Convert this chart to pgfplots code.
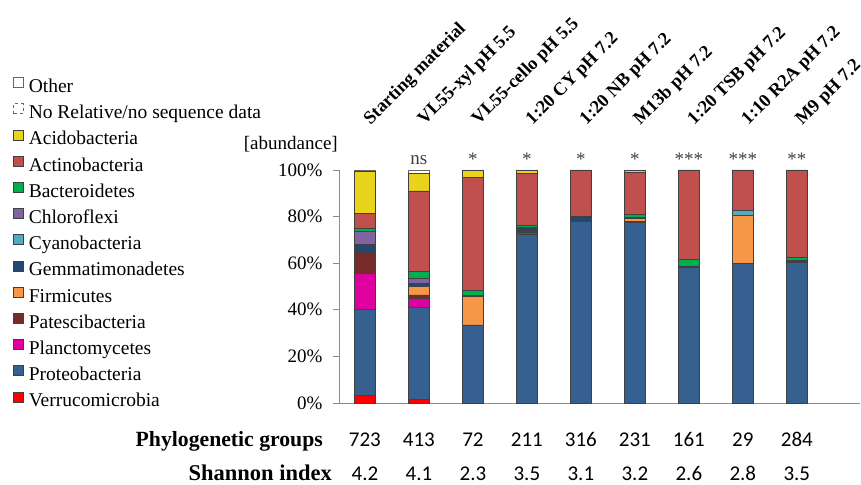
\documentclass[border=0pt]{standalone}
\usepackage{fontspec}
\setmainfont{Liberation Serif}
\newfontfamily\numfont{Carlito}
\usepackage{pgfplots}
\pgfplotsset{compat=1.18}
\definecolor{cVer}{HTML}{FF0000}
\definecolor{cPro}{HTML}{366090}
\definecolor{cPla}{HTML}{DF00A2}
\definecolor{cPat}{HTML}{772C2A}
\definecolor{cFir}{HTML}{F79646}
\definecolor{cGem}{HTML}{254670}
\definecolor{cCya}{HTML}{4BACC6}
\definecolor{cChl}{HTML}{8064A2}
\definecolor{cBac}{HTML}{00B050}
\definecolor{cAct}{HTML}{C0504D}
\definecolor{cAci}{HTML}{E9D41C}
\definecolor{axgray}{HTML}{8C8C8C}
\definecolor{sig}{HTML}{404040}
\tikzset{catlab/.style={rotate=45, anchor=base west, font=\bfseries\fontsize{18.4}{22}\selectfont},
  siglab/.style={anchor=base, text=sig, font=\fontsize{19}{22}\selectfont},
  numlab/.style={anchor=base, inner sep=0pt, font=\numfont\fontsize{21}{24}\selectfont}}
\begin{document}
\fontsize{19}{22}\selectfont
\begin{tikzpicture}
\path[use as bounding box] (0,0) rectangle (861pt,484pt);
\begin{axis}[
  at={(339pt,81pt)}, anchor=south west,
  scale only axis, width=521pt, height=233pt,
  xmin=-0.48, xmax=9.17, ymin=0, ymax=100,
  ybar stacked, bar width=21.5pt,
  axis x line*=bottom, axis y line*=left,
  xtick=\empty,
  ytick={0,20,40,60,80,100},
  yticklabels={0\%,20\%,40\%,60\%,80\%,100\%},
  tick align=outside, major tick length=6pt,
  axis line style={draw=axgray, line width=0.8pt},
  ytick style={draw=axgray, line width=0.8pt},
  tick label style={font=\fontsize{19}{22}\selectfont},
  yticklabel style={xshift=-4pt},
  clip=false,
  every axis plot/.append style={draw=black!75, line width=0.6pt},
  reverse legend,
  legend cell align=left,
  legend image code/.code={\draw[#1] (0pt,0.5pt) rectangle (10pt,10.5pt);},
  legend style={at={(-0.6315,1.4077)}, anchor=north west, draw=none, fill=none,
    font=\fontsize{19.5}{22}\selectfont, row sep=5.9pt,
    nodes={inner sep=0pt, text height=14pt, text depth=5pt},
    /tikz/every odd column/.append style={column sep=5pt}},
]
\addplot[fill=cVer] coordinates {(0,3.1) (1,1.7) (2,0) (3,0) (4,0) (5,0) (6,0) (7,0) (8,0)};
\addlegendentry{Verrucomicrobia}
\addplot[fill=cPro] coordinates {(0,37.1) (1,39.2) (2,33.5) (3,72.5) (4,77.8) (5,77.4) (6,58.2) (7,60.0) (8,60.5)};
\addlegendentry{Proteobacteria}
\addplot[fill=cPla] coordinates {(0,15.5) (1,4.0) (2,0) (3,0.6) (4,0) (5,0) (6,0) (7,0) (8,0)};
\addlegendentry{Planctomycetes}
\addplot[fill=cPat] coordinates {(0,9.0) (1,1.5) (2,0) (3,0.9) (4,0) (5,0.7) (6,0) (7,0) (8,0)};
\addlegendentry{Patescibacteria}
\addplot[fill=cFir] coordinates {(0,0) (1,3.5) (2,12.4) (3,0) (4,0) (5,1.2) (6,0) (7,20.7) (8,0)};
\addlegendentry{Firmicutes}
\addplot[fill=cGem] coordinates {(0,3.4) (1,1.5) (2,0.4) (3,1.2) (4,1.7) (5,0.5) (6,0.6) (7,0) (8,0.6)};
\addlegendentry{Gemmatimonadetes}
\addplot[fill=cCya] coordinates {(0,0) (1,0) (2,0) (3,0) (4,0) (5,0) (6,0) (7,2.1) (8,0)};
\addlegendentry{Cyanobacteria}
\addplot[fill=cChl] coordinates {(0,5.7) (1,2.1) (2,0) (3,0) (4,0) (5,0) (6,0) (7,0) (8,0)};
\addlegendentry{Chloroflexi}
\addplot[fill=cBac] coordinates {(0,1.3) (1,2.9) (2,2.2) (3,1.0) (4,0.8) (5,1.2) (6,2.9) (7,0) (8,1.3)};
\addlegendentry{Bacteroidetes}
\addplot[fill=cAct] coordinates {(0,6.3) (1,34.6) (2,48.2) (3,22.4) (4,19.7) (5,18.0) (6,38.3) (7,17.2) (8,37.6)};
\addlegendentry{Actinobacteria}
\addplot[fill=cAci] coordinates {(0,17.9) (1,7.6) (2,3.3) (3,1.4) (4,0) (5,1.0) (6,0) (7,0) (8,0)};
\addlegendentry{Acidobacteria}
\addplot[fill=white, draw=black!60, dashed] coordinates {(0,0.3) (1,0) (2,0) (3,0) (4,0) (5,0) (6,0) (7,0) (8,0)};
\addlegendentry{No Relative/no sequence data}
\addplot[fill=white, draw=black!60] coordinates {(0,0.4) (1,1.4) (2,0) (3,0) (4,0) (5,0) (6,0) (7,0) (8,0)};
\addlegendentry{Other}

% category labels
\node[catlab] at ([xshift=1pt,yshift=40pt]axis cs:0,100) {Starting material};
\node[catlab] at ([xshift=1pt,yshift=40pt]axis cs:1,100) {VL55-xyl pH 5.5};
\node[catlab] at ([xshift=1pt,yshift=40pt]axis cs:2,100) {VL55-cello pH 5.5};
\node[catlab] at ([xshift=1pt,yshift=40pt]axis cs:3,100) {1:20 CY pH 7.2};
\node[catlab] at ([xshift=1pt,yshift=40pt]axis cs:4,100) {1:20 NB pH 7.2};
\node[catlab] at ([xshift=1pt,yshift=40pt]axis cs:5,100) {M13b pH 7.2};
\node[catlab] at ([xshift=1pt,yshift=40pt]axis cs:6,100) {1:20 TSB pH 7.2};
\node[catlab] at ([xshift=1pt,yshift=40pt]axis cs:7,100) {1:10 R2A pH 7.2};
\node[catlab] at ([xshift=1pt,yshift=40pt]axis cs:8,100) {M9 pH 7.2};

% significance
\node[siglab] at ([yshift=5pt]axis cs:1,100) {ns};
\node[siglab] at ([yshift=4pt]axis cs:2,100) {*};
\node[siglab] at ([yshift=4pt]axis cs:3,100) {*};
\node[siglab] at ([yshift=4pt]axis cs:4,100) {*};
\node[siglab] at ([yshift=4pt]axis cs:5,100) {*};
\node[siglab] at ([yshift=4pt]axis cs:6,100) {***};
\node[siglab] at ([yshift=4pt]axis cs:7,100) {***};
\node[siglab] at ([yshift=4pt]axis cs:8,100) {**};

% y label
\node[anchor=base east, inner sep=0pt, font=\fontsize{19}{22}\selectfont] at ([xshift=-1pt,yshift=20pt]axis cs:-0.48,100) {[abundance]};

% bottom rows
\node[anchor=base east, inner sep=0pt, font=\bfseries\fontsize{21.7}{24}\selectfont] at ([xshift=-16pt,yshift=-43pt]axis cs:-0.48,0) {Phylogenetic groups};
\node[anchor=base east, inner sep=0pt, font=\bfseries\fontsize{22.5}{24}\selectfont] at ([xshift=-7pt,yshift=-77pt]axis cs:-0.48,0) {Shannon index};
\node[numlab] at ([yshift=-43pt]axis cs:0,0) {723};
\node[numlab] at ([yshift=-43pt]axis cs:1,0) {413};
\node[numlab] at ([yshift=-43pt]axis cs:2,0) {72};
\node[numlab] at ([yshift=-43pt]axis cs:3,0) {211};
\node[numlab] at ([yshift=-43pt]axis cs:4,0) {316};
\node[numlab] at ([yshift=-43pt]axis cs:5,0) {231};
\node[numlab] at ([yshift=-43pt]axis cs:6,0) {161};
\node[numlab] at ([yshift=-43pt]axis cs:7,0) {29};
\node[numlab] at ([yshift=-43pt]axis cs:8,0) {284};
\node[numlab] at ([yshift=-77pt]axis cs:0,0) {4.2};
\node[numlab] at ([yshift=-77pt]axis cs:1,0) {4.1};
\node[numlab] at ([yshift=-77pt]axis cs:2,0) {2.3};
\node[numlab] at ([yshift=-77pt]axis cs:3,0) {3.5};
\node[numlab] at ([yshift=-77pt]axis cs:4,0) {3.1};
\node[numlab] at ([yshift=-77pt]axis cs:5,0) {3.2};
\node[numlab] at ([yshift=-77pt]axis cs:6,0) {2.6};
\node[numlab] at ([yshift=-77pt]axis cs:7,0) {2.8};
\node[numlab] at ([yshift=-77pt]axis cs:8,0) {3.5};
\end{axis}
\end{tikzpicture}
\end{document}
